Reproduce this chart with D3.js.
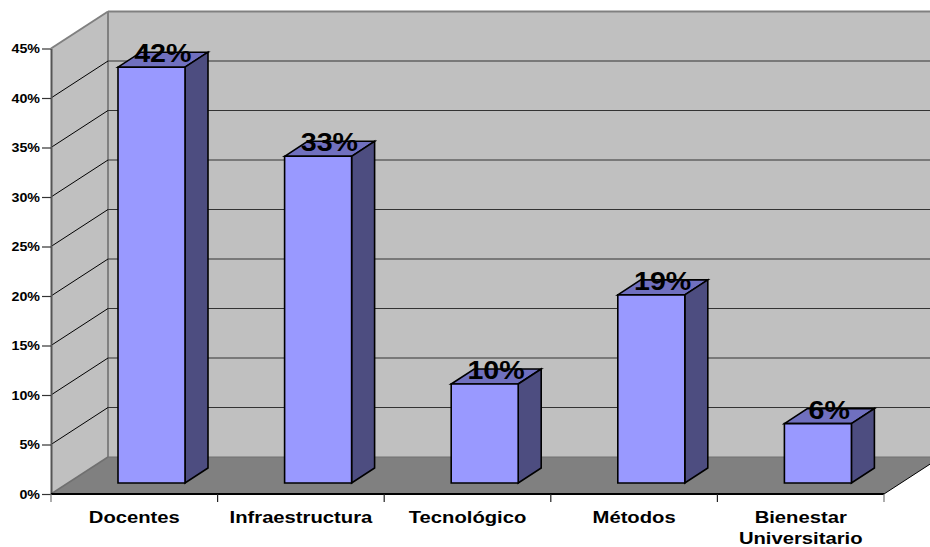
<!DOCTYPE html>
<html><head><meta charset="utf-8">
<script src="https://cdn.jsdelivr.net/npm/d3@7"></script>
<style>html,body{margin:0;padding:0;background:#fff}svg{display:block}text{font-family:"Liberation Sans",Arial,sans-serif;font-weight:bold;fill:#000}</style>
</head><body><svg id="c" width="930" height="547"></svg>
<script>
const categories=["Docentes","Infraestructura","Tecnológico","Métodos","Bienestar Universitario"];
const values=[42,33,10,19,6];
const yTicks=[0,5,10,15,20,25,30,35,40,45];
const W=930,H=547,x0=51,x1=884,yB=494,yT=48.5;
const depthX=57,depthY=-37,barDX=23,barDY=-15;
const svg=d3.select("#c");
const x=d3.scaleBand().domain(categories).range([x0,x1]);
const y=d3.scaleLinear().domain([0,45]).range([yB,yT]);
const barOff=67,barW=67,baseShift=-11;
const poly=(pts,fill,stroke,sw)=>svg.append("polygon").attr("points",pts.map(p=>p.join(",")).join(" ")).attr("fill",fill).attr("stroke",stroke||"none").attr("stroke-width",sw||0);
const line=(a,b,c,w)=>svg.append("line").attr("x1",a[0]).attr("y1",a[1]).attr("x2",b[0]).attr("y2",b[1]).attr("stroke",c).attr("stroke-width",w);
const label=(px,py,size,sx,s)=>svg.append("text").attr("transform",`translate(${px},${py}) scale(${sx},1)`).attr("text-anchor","middle").attr("font-size",size).text(s);
// walls
poly([[x0,y(0)],[x0+depthX,y(0)+depthY],[x0+depthX,y(45)+depthY],[x0,y(45)]],"#c0c0c0");
poly([[x0+depthX,y(0)+depthY],[W+20,y(0)+depthY],[W+20,y(45)+depthY],[x0+depthX,y(45)+depthY]],"#c0c0c0");
poly([[x0,y(0)],[x0+depthX,y(0)+depthY],[x1+depthX,y(0)+depthY],[x1,y(0)]],"#808080");
line([x0+depthX,y(0)+depthY],[x0+depthX,y(45)+depthY],"#808080",2);
line([x0+depthX,y(45)+depthY],[W,y(45)+depthY],"#808080",2);
line([x0,y(45)],[x0+depthX,y(45)+depthY],"#808080",2);
line([x0,y(0)],[x0+depthX,y(0)+depthY],"#707070",1.5);
line([x0+depthX,y(0)+depthY],[W,y(0)+depthY],"#707070",1);
// gridlines
yTicks.filter(t=>t>0&&t<45).forEach(t=>{
  line([x0,y(t)],[x0+depthX,y(t)+depthY],"#000",1);
  line([x0+depthX,y(t)+depthY],[W,y(t)+depthY],"#333",1.2);
});
// axes
const ya=d3.axisLeft(y).tickValues(yTicks).tickFormat(d=>d+"%").tickSize(9).tickSizeOuter(0);
const gy=svg.append("g").attr("transform",`translate(${x0},0)`).call(ya);
gy.select(".domain").attr("stroke","#555").attr("stroke-width",2);
gy.selectAll(".tick line").attr("stroke","#333").attr("stroke-width",1.2);
gy.selectAll("text").attr("font-size",12.5).attr("x",0).attr("transform","translate(-11,0) scale(1.14,1)").style("font-family",'"Liberation Sans",Arial,sans-serif');
line([x0,y(0)],[x1,y(0)],"#000",2);
line([x1,y(0)],[x1+depthX,y(0)+depthY],"#000",1);
const edges=categories.map(c=>x(c)).concat([x1]);
svg.selectAll(".xt").data(edges).enter().append("line").attr("class","xt").attr("x1",d=>d).attr("x2",d=>d).attr("y1",y(0)).attr("y2",y(0)+8).attr("stroke",(d,i)=>i==0||i==5?"#777":"#222").attr("stroke-width",1.2);
// bars
categories.forEach((c,i)=>{
  const v=values[i],l=x(c)+barOff,r=l+barW,t=y(v)+baseShift,b=y(0)+baseShift;
  poly([[l,t],[l+barDX,t+barDY],[r+barDX,t+barDY],[r,t]],"#7070bf","#000",1.6);
  poly([[r,t],[r+barDX,t+barDY],[r+barDX,b+barDY],[r,b]],"#4d4d80","#000",1.6);
  poly([[l,t],[r,t],[r,b],[l,b]],"#9999ff","#000",1.6);
});
// value labels
categories.forEach((c,i)=>{
  const v=values[i];
  label(x(c)+x.bandwidth()/2+28.5,y(v)+baseShift-5,26,1.1,v+"%");
});
// category labels
categories.forEach(c=>{
  const cx=x(c)+x.bandwidth()/2;
  const parts=c==="Bienestar Universitario"?c.split(" "):[c];
  parts.forEach((p,j)=>label(cx,522.5+j*21.5,17,1.19,p));
});
</script></body></html>
